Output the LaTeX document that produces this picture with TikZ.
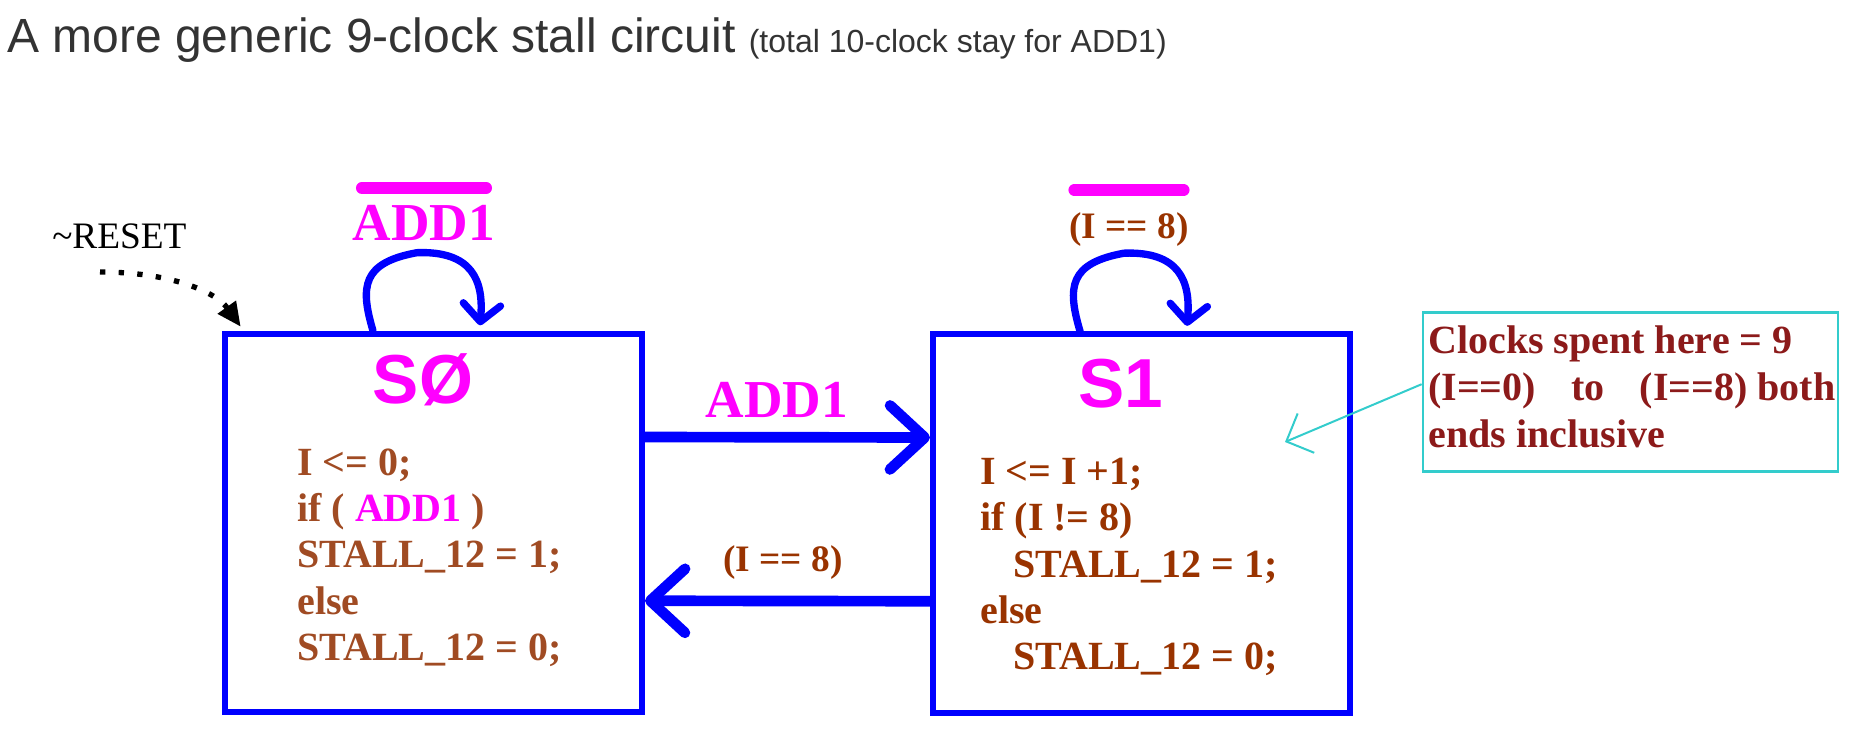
\documentclass[tikz,border=0pt]{standalone}
\usepackage{fontspec}
\setmainfont{Liberation Serif}
\newfontfamily\headfont{Liberation Sans}
\usepackage{xcolor}
\usetikzlibrary{arrows.meta}

\definecolor{codebrown}{RGB}{160,75,35}
\definecolor{condbrown}{RGB}{153,51,0}
\definecolor{notered}{RGB}{140,26,26}
\definecolor{notecyan}{RGB}{51,204,204}
\definecolor{headgray}{RGB}{51,51,51}
\definecolor{sigpink}{RGB}{255,0,255}
\definecolor{linkblue}{RGB}{0,0,255}

\tikzset{
  statebox/.style={draw=linkblue,line width=4.5pt,minimum width=312.75pt,minimum height=284pt,inner sep=0pt},
  statename/.style={anchor=base,inner sep=0pt,text=sigpink,font=\headfont\bfseries\fontsize{52pt}{60pt}\selectfont},
  codeline/.style={anchor=base west,inner sep=0pt,font=\bfseries\fontsize{30pt}{36pt}\selectfont},
  cond/.style={anchor=base,inner sep=0pt,font=\bfseries\fontsize{28pt}{34pt}\selectfont,text=condbrown},
  sig/.style={anchor=base,inner sep=0pt,font=\bfseries\fontsize{40pt}{46pt}\selectfont,text=sigpink},
  trans/.style={draw=linkblue,line width=8pt,line cap=round,-{Straight Barb[length=26pt,width=48pt,round]}},
  selfloop/.style={draw=linkblue,line width=5.5pt,line cap=round,-{Straight Barb[length=13pt,width=28pt,round]}},
  overbar/.style={draw=sigpink,line width=9pt,line cap=round}
}

\begin{document}
\begin{tikzpicture}[x=0.75pt,y=-0.75pt]
\useasboundingbox (0,0) rectangle (1850,733);
% heading
\node[anchor=base west,inner sep=0pt,text=headgray,font=\headfont\fontsize{36pt}{42pt}\selectfont] (head) at (7,52)
  {A more generic 9-clock stall circuit {\fontsize{24pt}{28pt}\selectfont(total 10-clock stay for ADD1)}};

% the two states
\node[statebox] (s0) at (433.5,523) {};
\node[statebox] (s1) at (1141.5,523.5) {};
\node[statename] (s0name) at (423,403) {SØ};
\node[statename] (s1name) at (1121,407) {S1};

\foreach \txt [count=\i from 0] in {I <= 0;,{if ( \textcolor{sigpink}{ADD1} )},STALL\_12 = 1;,else,STALL\_12 = 0;}
  \node[codeline,text=codebrown] (s0act\i) at (297,{475+46.4*\i}) {\txt};
\foreach \dx/\txt [count=\i from 0] in {0/{I <= I +1;},0/{if (I != 8)},33/{STALL\_12 = 1;},0/else,33/{STALL\_12 = 0;}}
  \node[codeline,text=condbrown] (s1act\i) at ({980+\dx},{484.3+46.4*\i}) {\txt};

% stay in the same state
\draw[selfloop] ([xshift=-45.4pt]s0.north) .. controls +(-13,-44) and +(-55,10) .. ++(44,-78)
  .. controls +(55,-2) and +(4,-45) .. ([xshift=34.9pt,yshift=4pt]s0.north);
\draw[selfloop] ([xshift=-46.1pt]s1.north) .. controls +(-13,-44) and +(-55,10) .. ++(44,-78)
  .. controls +(55,-2) and +(4,-45) .. ([xshift=34.1pt,yshift=4pt]s1.north);
\node[sig] (s0keep) at (424,240.7) {ADD1};
\draw[overbar] ([xshift=7pt,yshift=39.5pt]s0keep.base west) -- ([xshift=-7pt,yshift=39.5pt]s0keep.base east);
\node[cond] (s1keep) at (1129,238) {(I == 8)};
\draw[overbar] ([xshift=4pt,yshift=36pt]s1keep.base west) -- ([xshift=-4pt,yshift=36pt]s1keep.base east);

% move between the states
\draw[trans] ([yshift=64.5pt]s0.east) -- ([yshift=64.5pt]s1.west)
  node[sig,midway,xshift=-8pt,yshift=15pt] (go) {ADD1};
\draw[trans] ([yshift=-58.3pt]s1.west) -- ([yshift=-58.3pt]s0.east)
  node[cond,midway,xshift=-3.4pt,yshift=21.75pt] (back) {(I == 8)};

% reset
\node[anchor=base west,inner sep=0pt,font=\fontsize{28pt}{34pt}\selectfont] (reset) at (52,248) {\textasciitilde RESET};
\coordinate (rst) at (100,272);
\draw[line width=4pt,dash pattern=on 4pt off 10pt,-{Triangle[length=18pt,width=16pt]}]
  (rst) .. controls +(70,0) and +(-25,-35) .. ([xshift=14pt,yshift=3pt]s0.north west);

% note
\node[draw=notecyan,line width=2pt,minimum width=311.25pt,minimum height=119.25pt,inner sep=0pt] (note) at (1630.5,392.2) {};
\foreach \txt [count=\i from 0] in {Clocks spent here = 9,{(I==0)\hspace{0.88em}to\hspace{0.88em}(I==8) both},ends inclusive}
  \node[codeline,text=notered] (note\i) at (1428,{353+47*\i}) {\txt};
\coordinate (ptr) at (1285,442);
\draw[notecyan,line width=1.5pt,-{Straight Barb[length=16pt,width=32pt]}] ([yshift=6pt]note.west) -- (ptr);
\end{tikzpicture}
\end{document}
